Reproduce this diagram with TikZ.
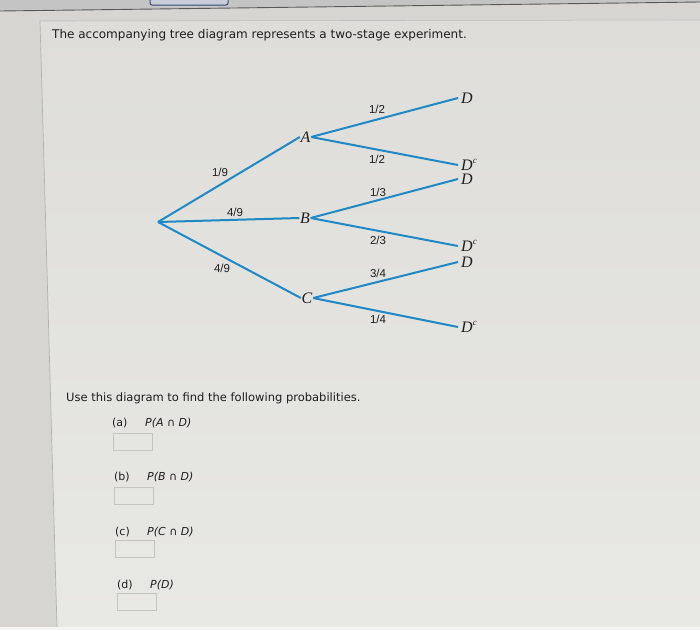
\documentclass[tikz,border=0pt]{standalone}
\usepackage{fontspec}
\setmainfont{DejaVu Sans}
\newfontfamily\trm{Liberation Serif}
\newfontfamily\fracfont{Liberation Sans}
\definecolor{treeblue}{RGB}{32,136,196}
\definecolor{boxgray}{RGB}{196,196,192}
\definecolor{outerbg}{RGB}{214,213,210}
\definecolor{paneltop}{RGB}{222,221,218}
\definecolor{panelbot}{RGB}{232,232,228}
\definecolor{topband}{RGB}{196,196,196}
\definecolor{txtgray}{RGB}{30,30,30}
\newcommand{\supc}{\smash{\raisebox{0.42em}{\fontsize{9}{9}\selectfont c}}}
\begin{document}
\begin{tikzpicture}[x=1pt,y=-1pt,
  br/.style={draw=treeblue, line width=2pt},
  lvl/.style={font=\trm\itshape\fontsize{16}{16}\selectfont, text=txtgray, inner sep=0.6pt},
  leaf/.style={lvl, anchor=west, inner xsep=3pt, inner ysep=0pt},
  pr/.style={font=\fracfont\fontsize{11.5}{12}\selectfont, text=txtgray, inner sep=0pt},
  ans/.style={draw=boxgray, line width=0.8pt, minimum width=39pt, minimum height=17pt, inner sep=0pt},
  txt/.style={anchor=west, inner sep=0pt, text=txtgray},
  qtxt/.style={txt, font=\fontsize{11.5}{13}\selectfont},
  ttxt/.style={txt, font=\fontsize{12}{14}\selectfont}]
\useasboundingbox (0,0) rectangle (700,630);
% backgrounds
\fill[outerbg] (0,0) rectangle (700,630);
\shade[top color=paneltop, bottom color=panelbot] (40,21) -- (700,20) -- (700,627) -- (57,627) -- cycle;
\fill[topband] (0,0) -- (700,0) -- (700,2) -- (0,11) -- cycle;
\draw[black!65, line width=0.9pt] (0,11) -- (700,2);
\draw[black!25, line width=0.6pt] (40,21) -- (700,20);
\draw[black!30, line width=0.7pt] (40,21) -- (57,627);
\fill[white!96!black] (0,627) rectangle (700,630);
\draw[draw={rgb,255:red,50;green,70;blue,120}, line width=1pt, fill={rgb,255:red,200;green,205;blue,215}, rounded corners=2pt] (150,-4) rectangle (228,5);
% title
\node[ttxt] (title) at (52,35) {The accompanying tree diagram represents a two-stage experiment.};
% tree
\coordinate (O) at (158,222);
\node[lvl] (A) at (305.5,137) {A};
\node[lvl] (B) at (305,218) {B};
\node[lvl] (C) at (307,298) {C};
\node[leaf] (D1) at (458,98) {D};
\node[leaf] (Dc1) at (458,165) {D\supc};
\node[leaf] (D2) at (458,179) {D};
\node[leaf] (Dc2) at (458,246) {D\supc};
\node[leaf] (D3) at (458,262) {D};
\node[leaf] (Dc3) at (458,327) {D\supc};
\draw[br] (O) -- (A.west);
\draw[br] (O) -- (B.west);
\draw[br] (O) -- (C.west);
\draw[br] (A.east) -- (D1.west);
\draw[br] (A.east) -- (Dc1.west);
\draw[br] (B.east) -- (D2.west);
\draw[br] (B.east) -- (Dc2.west);
\draw[br] (C.east) -- (D3.west);
\draw[br] (C.east) -- (Dc3.west);
% probabilities
\node[pr] (pA) at (220,172) {1/9};
\node[pr] (pB) at (235,212) {4/9};
\node[pr] (pC) at (222,268) {4/9};
\node[pr] (p1) at (377,109) {1/2};
\node[pr] (p2) at (377,159) {1/2};
\node[pr] (p3) at (378,192) {1/3};
\node[pr] (p4) at (378,240) {2/3};
\node[pr] (p5) at (378,273) {3/4};
\node[pr] (p6) at (378,319) {1/4};
% questions
\node[qtxt] (use) at (66,398) {Use this diagram to find the following probabilities.};
\node[qtxt, font=\fontsize{11}{13}\selectfont] (la) at (112,423) {(a)};
\node[qtxt, font=\fontsize{11}{13}\selectfont\itshape] (qa) at (145,423) {P(A \upshape{∩}\itshape{} D)};
\node[ans] (ba) at (132.5,441.5) {};
\node[qtxt, font=\fontsize{11}{13}\selectfont] (lb) at (114,477) {(b)};
\node[qtxt, font=\fontsize{11}{13}\selectfont\itshape] (qb) at (147,477) {P(B \upshape{∩}\itshape{} D)};
\node[ans] (bb) at (133.5,495.5) {};
\node[qtxt, font=\fontsize{11}{13}\selectfont] (lc) at (115,532) {(c)};
\node[qtxt, font=\fontsize{11}{13}\selectfont\itshape] (qc) at (147,532) {P(C \upshape{∩}\itshape{} D)};
\node[ans] (bc) at (135,548.5) {};
\node[qtxt, font=\fontsize{11}{13}\selectfont] (ld) at (117,585) {(d)};
\node[qtxt, font=\fontsize{11}{13}\selectfont\itshape] (qd) at (150,585) {P(D)};
\node[ans] (bd) at (136.5,602) {};
\end{tikzpicture}
\end{document}
